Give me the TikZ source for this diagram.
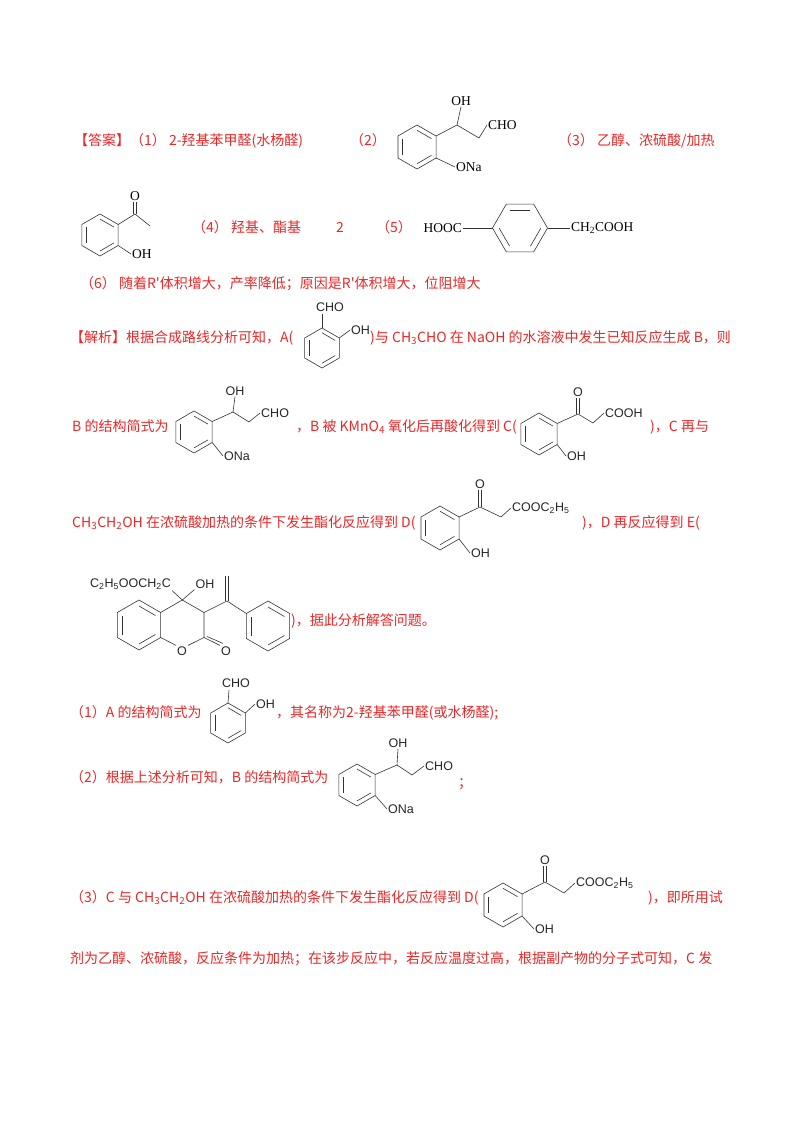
\documentclass[tikz,border=0pt]{standalone}
\usepackage{fontspec}
\setmainfont{Liberation Serif}
\newfontfamily\cjk{Noto Sans CJK SC}
\newfontfamily\chsans{Liberation Sans}
\usetikzlibrary{calc}
\definecolor{ansred}{RGB}{232,40,40}
\tikzset{
  bond/.style={line width=0.6pt, black!80},
  txt/.style={inner sep=0pt, anchor=base west, text=ansred, font=\fontsize{14}{16}\cjk},
  lbs/.style={inner sep=1pt, text=black!85, font=\fontsize{12.5}{13}\chsans},
  lbt/.style={inner sep=1pt, text=black, font=\fontsize{13.5}{14}\rmfamily}
}
\newcommand\bz[5]{%
  \coordinate (#1) at (#2,-#3);
  \foreach \i in {1,...,6}{\coordinate (#1-\i) at ($(#1)+({#5-60*(\i-1)}:#4)$);}
  \draw[bond] (#1-1)--(#1-2)--(#1-3)--(#1-4)--(#1-5)--(#1-6)--cycle;
  \draw[bond] ($(#1)!0.76!(#1-1)$)--($(#1)!0.76!(#1-2)$);
  \draw[bond] ($(#1)!0.76!(#1-3)$)--($(#1)!0.76!(#1-4)$);
  \draw[bond] ($(#1)!0.76!(#1-5)$)--($(#1)!0.76!(#1-6)$);
}
\newcommand\tx[4]{\node[txt] (#1) at (#2,-#3) {#4};}
\begin{document}
\begin{tikzpicture}[x=1pt,y=1pt]
\useasboundingbox[fill=white] (0,0) rectangle (800,-1132);
% ---------- answers ----------
\tx{t1a}{74}{145}{【答案】}
\tx{t1b}{130}{145}{（1） 2-羟基苯甲醛(水杨醛)}
\tx{t1c}{350}{145}{（2）}
\bz{rb}{417}{147}{22}{90}
\coordinate (rbch) at (457,-125); \coordinate (rbch2) at (479,-138);
\node[lbt] (rboh) at (461,-101) {OH};
\node[lbt,anchor=west] (rbcho) at (487,-125) {CHO};
\node[lbt,anchor=west] (rbona) at (455,-167) {ONa};
\draw[bond] (rb-2)--(rbch)--(rbch2)--(rbcho.west);
\draw[bond] (rbch)--(rboh.south);
\draw[bond] (rb-3)--(rbona.west);
\tx{t1d}{558}{145}{（3） 乙醇、浓硫酸/加热}
% row 2
\bz{ra}{100}{235}{21}{90}
\coordinate (rac) at (135,-214); \coordinate (rame) at (150,-226);
\node[lbt] (rao) at (135,-196) {O};
\node[lbt,anchor=west] (raoh) at (131,-254) {OH};
\draw[bond] (ra-2)--(rac)--(rame);
\draw[bond] ($(rac)+(-1.5,0)$)--($(rao.south)+(-1.5,0)$);
\draw[bond] ($(rac)+(1.5,0)$)--($(rao.south)+(1.5,0)$);
\draw[bond] (ra-3)--(raoh.west);
\tx{t2a}{192}{232}{（4） 羟基、酯基}
\tx{t2b}{336}{232}{2}
\tx{t2c}{376}{232}{（5）}
\bz{rp}{520}{228}{27.5}{0}
\node[lbt,anchor=east] (rphooc) at (463,-228) {HOOC};
\node[lbt,anchor=west] (rpch) at (570,-228) {CH\textsubscript{2}COOH};
\draw[bond] (rphooc.east)--(rp-4);
\draw[bond] (rp-1)--(rpch.west);
\tx{t3}{80}{288}{（6） 随着R'体积增大，产率降低；原因是R'体积增大，位阻增大}
% ---------- analysis ----------
\tx{t4a}{70}{342}{【解析】根据合成路线分析可知，A(}
\bz{sa}{322}{348}{20}{90}
\node[lbs,anchor=south] (sacho) at (330,-313) {CHO};
\node[lbs,anchor=west] (saoh) at (350,-330) {OH};
\draw[bond] (sa-1)--(322,-314);
\draw[bond] (sa-2)--(saoh.west);
\tx{t4b}{370}{342}{)与 CH\textsubscript{3}CHO 在 NaOH 的水溶液中发生已知反应生成 B，则}
% row 5
\tx{t5a}{72}{431}{B 的结构简式为}
\bz{sb}{194}{432}{21}{90}
\coordinate (sbch) at (233,-412); \coordinate (sbch2) at (249,-422);
\node[lbs] (sboh) at (235,-391) {OH};
\node[lbs,anchor=west] (sbcho) at (260,-413) {CHO};
\node[lbs,anchor=west] (sbona) at (223,-456) {ONa};
\draw[bond] (sb-2)--(sbch)--(sbch2)--(sbcho.west);
\draw[bond] (sbch)--(sboh.south);
\draw[bond] (sb-3)--(sbona.west);
\tx{t5b}{296}{431}{，B 被 KMnO\textsubscript{4} 氧化后再酸化得到 C(}
\bz{sc}{539}{434}{21}{90}
\coordinate (scc) at (578,-414); \coordinate (scch2) at (593,-423);
\node[lbs] (sco) at (578,-392) {O};
\node[lbs,anchor=west] (sccooh) at (604,-413) {COOH};
\node[lbs,anchor=west] (scoh) at (566,-456) {OH};
\draw[bond] (sc-2)--(scc)--(scch2)--(sccooh.west);
\draw[bond] ($(scc)+(-1.5,0)$)--($(sco.south)+(-1.5,0)$);
\draw[bond] ($(scc)+(1.5,0)$)--($(sco.south)+(1.5,0)$);
\draw[bond] (sc-3)--(scoh.west);
\tx{t5c}{650}{431}{)，C 再与}
% row 6
\tx{t6a}{72}{527}{CH\textsubscript{3}CH\textsubscript{2}OH 在浓硫酸加热的条件下发生酯化反应得到 D(}
\bz{sd}{440}{528}{22}{90}
\coordinate (sdc) at (480,-507); \coordinate (sdch2) at (501,-517);
\node[lbs] (sdo) at (480,-484) {O};
\node[lbs,anchor=west] (sdest) at (511,-508) {COOC\textsubscript{2}H\textsubscript{5}};
\node[lbs,anchor=west] (sdoh) at (470,-553) {OH};
\draw[bond] (sd-2)--(sdc)--(sdch2)--(sdest.west);
\draw[bond] ($(sdc)+(-1.5,0)$)--($(sdo.south)+(-1.5,0)$);
\draw[bond] ($(sdc)+(1.5,0)$)--($(sdo.south)+(1.5,0)$);
\draw[bond] (sd-3)--(sdoh.west);
\tx{t6b}{582}{527}{)，D 再反应得到 E(}
% E
\bz{se}{139}{625}{25}{90}
\bz{sph}{268}{626}{25}{90}
\coordinate (seq) at (182.3,-600); \coordinate (sech) at (204,-612.5);
\coordinate (seco) at (204,-637.5); \coordinate (sevc) at (227,-601);
\coordinate (sech2) at (227,-576);
\node[lbs] (seo) at (182,-651) {O};
\node[lbs] (seo2) at (226,-651) {O};
\node[lbs,anchor=east] (seest) at (172,-584) {C\textsubscript{2}H\textsubscript{5}OOCH\textsubscript{2}C};
\node[lbs] (seoh) at (205,-584) {OH};
\draw[bond] (se-2)--(seq)--(sech)--(seco)--(seo.north east);
\draw[bond] (seo.north west)--(se-3);
\draw[bond] (seq)--(seest.south east);
\draw[bond] (seq)--(seoh.south west);
\draw[bond] (seco)--(seo2.north west);
\draw[bond] ($(seco)+(3,1)$)--($(seo2.north west)+(3,2)$);
\draw[bond] (sech)--(sevc)--(sph-6);
\draw[bond] ($(sevc)+(-1.5,0)$)--($(sech2)+(-1.5,0)$);
\draw[bond] ($(sevc)+(1.5,0)$)--($(sech2)+(1.5,0)$);
\tx{t7}{291}{625}{)，据此分析解答问题。}
% (1)
\tx{t8a}{70}{717}{（1）A 的结构简式为}
\bz{sa2}{228}{723}{20}{90}
\node[lbs,anchor=south] (sa2cho) at (236,-689) {CHO};
\node[lbs,anchor=west] (sa2oh) at (255,-704) {OH};
\draw[bond] (sa2-1)--(229,-690);
\draw[bond] (sa2-2)--(sa2oh.west);
\tx{t8b}{276}{717}{，其名称为2-羟基苯甲醛(或水杨醛);}
% (2)
\tx{t9a}{70}{782}{（2）根据上述分析可知，B 的结构简式为}
\bz{sb2}{357}{785}{21}{90}
\coordinate (sb2ch) at (397,-765); \coordinate (sb2ch2) at (412,-775);
\node[lbs] (sb2oh) at (398,-743) {OH};
\node[lbs,anchor=west] (sb2cho) at (424,-766) {CHO};
\node[lbs,anchor=west] (sb2ona) at (387,-809) {ONa};
\draw[bond] (sb2-2)--(sb2ch)--(sb2ch2)--(sb2cho.west);
\draw[bond] (sb2ch)--(sb2oh.south);
\draw[bond] (sb2-3)--(sb2ona.west);
\tx{t9b}{458}{787}{；}
% (3)
\tx{t10a}{70}{902}{（3）C 与 CH\textsubscript{3}CH\textsubscript{2}OH 在浓硫酸加热的条件下发生酯化反应得到 D(}
\bz{sd2}{503}{905}{22}{90}
\coordinate (sd2c) at (545,-882); \coordinate (sd2ch2) at (564,-893);
\node[lbs] (sd2o) at (545,-860) {O};
\node[lbs,anchor=west] (sd2est) at (575,-883) {COOC\textsubscript{2}H\textsubscript{5}};
\node[lbs,anchor=west] (sd2oh) at (534,-929) {OH};
\draw[bond] (sd2-2)--(sd2c)--(sd2ch2)--(sd2est.west);
\draw[bond] ($(sd2c)+(-1.5,0)$)--($(sd2o.south)+(-1.5,0)$);
\draw[bond] ($(sd2c)+(1.5,0)$)--($(sd2o.south)+(1.5,0)$);
\draw[bond] (sd2-3)--(sd2oh.west);
\tx{t10b}{648}{902}{)，即所用试}
\tx{t11}{70}{963}{剂为乙醇、浓硫酸，反应条件为加热；在该步反应中，若反应温度过高，根据副产物的分子式可知，C 发}
\end{tikzpicture}
\end{document}
